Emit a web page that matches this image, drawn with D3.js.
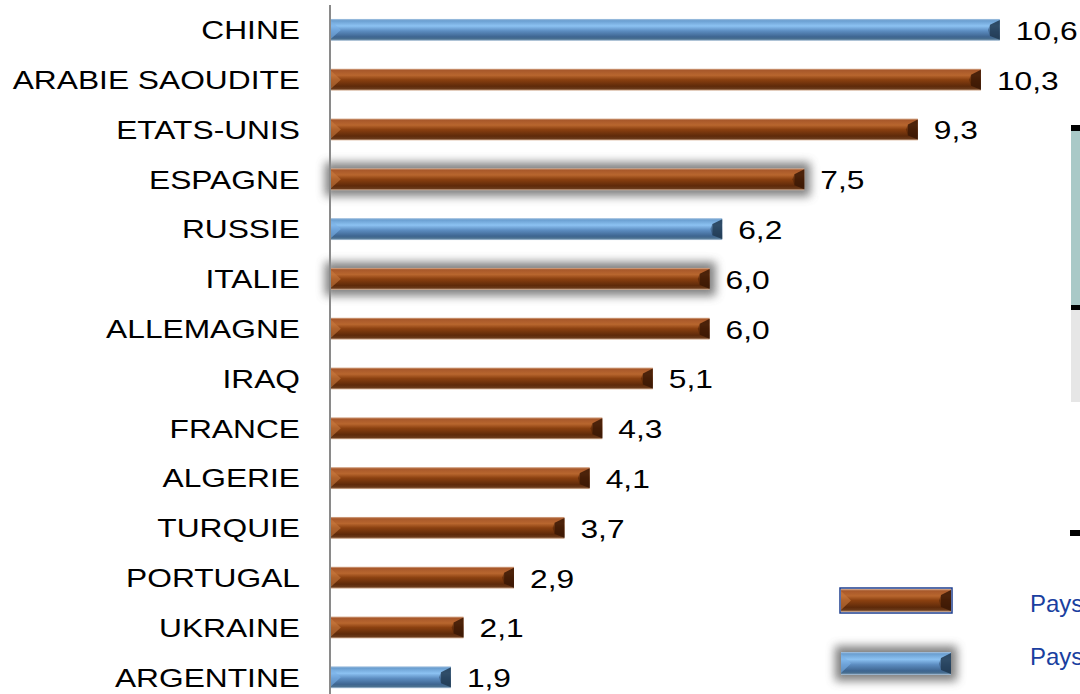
<!DOCTYPE html>
<html><head><meta charset="utf-8">
<script src="https://cdn.jsdelivr.net/npm/d3@7"></script>
<style>html,body{margin:0;padding:0;background:#fff;overflow:hidden}</style>
</head><body>
<svg id="chart" width="1080" height="694"></svg>
<script>
const categories = ["CHINE","ARABIE SAOUDITE","ETATS-UNIS","ESPAGNE","RUSSIE","ITALIE","ALLEMAGNE","IRAQ","FRANCE","ALGERIE","TURQUIE","PORTUGAL","UKRAINE","ARGENTINE"];
const values = [10.6,10.3,9.3,7.5,6.2,6.0,6.0,5.1,4.3,4.1,3.7,2.9,2.1,1.9];
const groups = ["blue","brown","brown","brown","blue","brown","brown","brown","brown","brown","brown","brown","brown","blue"];
const glowed = ["ESPAGNE","ITALIE"];
const legendLabels = ["Pays","Pays"];

const svg = d3.select("#chart");
const font = "'Liberation Sans', Arial, sans-serif";
const stretch = 1.22;
const defs = svg.append("defs");

const grads = {
  brown: [[0,"#d9b095"],[0.08,"#a8582a"],[0.3,"#b8662e"],[0.5,"#8a4010"],[0.8,"#5e2a0a"],[0.92,"#6a3a1a"],[1,"#e0c0a8"]],
  blue: [[0,"#a8c4e0"],[0.08,"#6a9ed0"],[0.32,"#8cc2f2"],[0.55,"#5c8cc0"],[0.82,"#3e6590"],[0.92,"#4a7090"],[1,"#b8cce0"]]
};
Object.entries(grads).forEach(([k,stops])=>{
  const g = defs.append("linearGradient").attr("id","g-"+k).attr("x1",0).attr("y1",0).attr("x2",0).attr("y2",1);
  stops.forEach(s=>g.append("stop").attr("offset",s[0]).attr("stop-color",s[1]));
});
const f = defs.append("filter").attr("id","glow").attr("x","-30%").attr("y","-100%").attr("width","160%").attr("height","300%");
f.append("feGaussianBlur").attr("stdDeviation",5);

const x = d3.scaleLinear().domain([0,12]).range([331, 331+12*63.1]);
const y = d3.scaleBand().domain(categories).range([5, 5+14*49.8]).paddingInner(0.56).paddingOuter(0.28);

const endDark = {brown:"#3a1805", blue:"#203850"};
const startLight = {brown:"#c87a40", blue:"#7ab0e8"};

function bevelBar(g, x0, x1, y0, h, grp, glow){
  if(glow){
    g.append("rect").attr("x",x0-6).attr("y",y0-6).attr("width",x1-x0+12).attr("height",h+12)
      .attr("fill","#555").attr("opacity",0.75).attr("filter","url(#glow)");
  }
  g.append("rect").attr("x",x0).attr("y",y0).attr("width",x1-x0).attr("height",h).attr("fill",`url(#g-${grp})`);
  const b = Math.min(h*0.45, 10);
  g.append("path").attr("d",`M${x0},${y0+2} L${x0+b},${y0+h/2} L${x0},${y0+h-2} Z`).attr("fill",startLight[grp]).attr("opacity",0.6);
  g.append("path").attr("d",`M${x1},${y0+1} L${x1},${y0+h-1} L${x1-b},${y0+h-b*0.5} L${x1-b},${y0+b*0.6} Z`).attr("fill",endDark[grp]).attr("opacity",0.85);
  g.append("path").attr("d",`M${x1-b},${y0+b*0.6} L${x1-b},${y0+h-b*0.5} L${x1-b-2},${y0+h/2} Z`).attr("fill",endDark[grp]).attr("opacity",0.4);
}

// right partial box
svg.append("rect").attr("x",1071).attr("y",131).attr("width",9).attr("height",174).attr("fill","#a9c9c7");
svg.append("rect").attr("x",1071).attr("y",310).attr("width",9).attr("height",92).attr("fill","#e6e6e6");
svg.append("rect").attr("x",1071).attr("y",125).attr("width",9).attr("height",6).attr("fill","#000");
svg.append("rect").attr("x",1071).attr("y",305).attr("width",9).attr("height",5).attr("fill","#000");
svg.append("rect").attr("x",1070).attr("y",530).attr("width",10).attr("height",6).attr("fill","#000");

const bars = svg.append("g");
categories.forEach((c,i)=>{
  bevelBar(bars, x(0), x(values[i]), y(c), y.bandwidth(), groups[i], glowed.includes(c));
});

svg.append("line").attr("x1",330).attr("x2",330).attr("y1",5).attr("y2",694).attr("stroke","#8a8a8a").attr("stroke-width",2);

// category labels
svg.append("g").selectAll("text").data(categories).join("text")
  .attr("transform",d=>`translate(300,${y(d)+y.bandwidth()/2}) scale(${stretch},1)`)
  .attr("dy","0.36em")
  .attr("text-anchor","end").attr("font-family",font).attr("font-size",26).attr("fill","#000").text(d=>d);

// value labels
svg.append("g").selectAll("text").data(values).join("text")
  .attr("transform",(d,i)=>`translate(${x(d)+16},${y(categories[i])+y.bandwidth()/2+0.5}) scale(${stretch},1)`)
  .attr("dy","0.36em")
  .attr("font-family",font).attr("font-size",26).attr("fill","#000").text(d=>d3.format(".1f")(d).replace(".",","));

// legend
const lg = svg.append("g");
const legendItems = [{grp:"brown",glow:false,y:589,ty:603},{grp:"blue",glow:true,y:652,ty:656}];
legendItems.forEach((it,i)=>{
  bevelBar(lg, 841, 951, it.y, 23, it.grp, it.glow);
  if(!it.glow) lg.append("rect").attr("x",840).attr("y",it.y-1).attr("width",112).attr("height",25).attr("fill","none").attr("stroke","#1f3f8f").attr("stroke-width",1.5);
  lg.append("text").attr("x",1030).attr("y",it.ty).attr("dy","0.36em")
    .attr("font-family",font).attr("font-size",24).attr("fill","#1a3fa0").text(legendLabels[i]);
});
</script>
</body></html>
